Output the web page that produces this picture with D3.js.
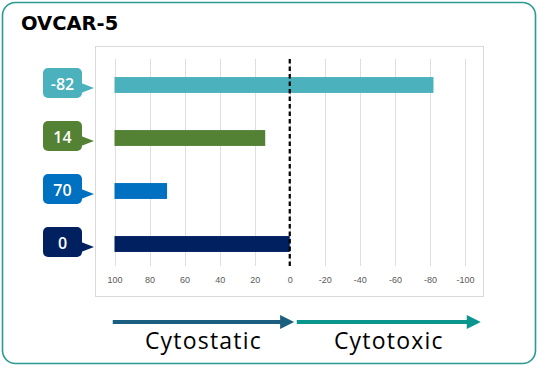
<!DOCTYPE html>
<html>
<head>
<meta charset="utf-8">
<script src="https://cdn.jsdelivr.net/npm/d3@7"></script>
<style>
	body { margin: 0; background: #fff; }
	svg { display: block; font-family: 'Open Sans', sans-serif; }
</style>
</head>
<body>
<svg id="chart-svg" width="538" height="366"></svg>
<script>
const TITLE = 'OVCAR-5';
const ROWS = [ 'a', 'b', 'c', 'd' ];
const VALUES = [ -82, 14, 70, 0 ];
const COLORS = [ '#4bb1bd', '#548235', '#0070c0', '#002060' ];
const TICKS = [ 100, 80, 60, 40, 20, 0, -20, -40, -60, -80, -100 ];
const ARROW_LABELS = [ 'Cytostatic', 'Cytotoxic' ];
const ARROW_COLORS = [ '#1b5e80', '#0a968f' ];

const svg = d3.select('#chart-svg');

// outer card
svg
	.append('rect')
	.attr('x', 2.5)
	.attr('y', 2.5)
	.attr('width', 533)
	.attr('height', 361)
	.attr('rx', 13)
	.attr('fill', '#fff')
	.attr('stroke', '#2a9a93')
	.attr('stroke-width', 1.6);

svg
	.append('text')
	.attr('x', 21)
	.attr('y', 29.5)
	.attr('font-family', "'DejaVu Sans', sans-serif")
	.attr('font-size', 19.5)
	.attr('font-weight', 'bold')
	.attr('fill', '#000')
	.text(TITLE);

// plot frame
svg
	.append('rect')
	.attr('x', 95.5)
	.attr('y', 46.5)
	.attr('width', 388)
	.attr('height', 250)
	.attr('fill', 'none')
	.attr('stroke', '#d9d9d9');

const xScale = d3.scaleLinear().domain([ 100, -100 ]).range([ 114.5, 465 ]);
const yScale = d3.scaleBand().domain(ROWS).range([ 58.5, 270.5 ]).paddingInner(0.7).paddingOuter(0.35);

// grid
svg
	.append('g')
	.selectAll('line')
	.data(TICKS)
	.enter()
	.append('line')
	.attr('x1', (d) => Math.round(xScale(d)) + 0.5)
	.attr('x2', (d) => Math.round(xScale(d)) + 0.5)
	.attr('y1', 59)
	.attr('y2', 266)
	.attr('stroke', '#dedede')
	.attr('stroke-width', 1);

const xAxis = d3.axisBottom(xScale).tickValues(TICKS).tickSize(0).tickPadding(0).tickFormat((d) => String(d));
const axisG = svg.append('g').attr('transform', 'translate(0, 277)').call(xAxis);
axisG.select('.domain').remove();
axisG
	.selectAll('text')
	.attr('font-family', "'Liberation Sans', 'DejaVu Sans', sans-serif")
	.attr('font-size', 9)
	.attr('fill', '#595959');

// bars from 100 to value
svg
	.append('g')
	.selectAll('rect')
	.data(VALUES)
	.enter()
	.append('rect')
	.attr('x', xScale(100))
	.attr('y', (d, i) => yScale(ROWS[i]))
	.attr('width', (d) => xScale(d) - xScale(100))
	.attr('height', yScale.bandwidth())
	.attr('fill', (d, i) => COLORS[i]);

// zero line
svg
	.append('line')
	.attr('x1', xScale(0))
	.attr('x2', xScale(0))
	.attr('y1', 59)
	.attr('y2', 266)
	.attr('stroke', '#000')
	.attr('stroke-width', 2.2)
	.attr('stroke-dasharray', '4.5,3');

// callouts
const callG = svg
	.append('g')
	.selectAll('g')
	.data(VALUES)
	.enter()
	.append('g')
	.attr('transform', (d, i) => 'translate(0, ' + (yScale(ROWS[i]) + yScale.bandwidth() / 2) + ')');
callG
	.append('rect')
	.attr('x', 43)
	.attr('y', -17)
	.attr('width', 39)
	.attr('height', 30)
	.attr('rx', 5)
	.attr('fill', (d, i) => COLORS[i]);
callG
	.append('path')
	.attr('d', 'M81,-2 L94,3 L81,8 Z')
	.attr('fill', (d, i) => COLORS[i]);
callG
	.append('text')
	.attr('x', 62.5)
	.attr('y', 4.5)
	.attr('text-anchor', 'middle')
	.attr('font-size', 16)
	.attr('font-weight', 600)
	.attr('fill', '#fff')
	.text((d) => d);

// arrows
const arrowX = [ [ xScale(101), xScale(-2.5) ], [ xScale(-4), xScale(-109) ] ];
arrowX.forEach((ax, i) => {
	svg
		.append('line')
		.attr('x1', ax[0])
		.attr('x2', ax[1] - 12)
		.attr('y1', 322)
		.attr('y2', 322)
		.attr('stroke', ARROW_COLORS[i])
		.attr('stroke-width', 4);
	svg
		.append('path')
		.attr('d', 'M' + (ax[1] - 14) + ',315 L' + ax[1] + ',322 L' + (ax[1] - 14) + ',329 Z')
		.attr('fill', ARROW_COLORS[i]);
	svg
		.append('text')
		.attr('x', (ax[0] + ax[1]) / 2)
		.attr('y', 349)
		.attr('text-anchor', 'middle')
		.attr('font-size', 23)
		.attr('letter-spacing', 1.2)
		.attr('fill', '#000')
		.text(ARROW_LABELS[i]);
});
</script>
</body>
</html>
